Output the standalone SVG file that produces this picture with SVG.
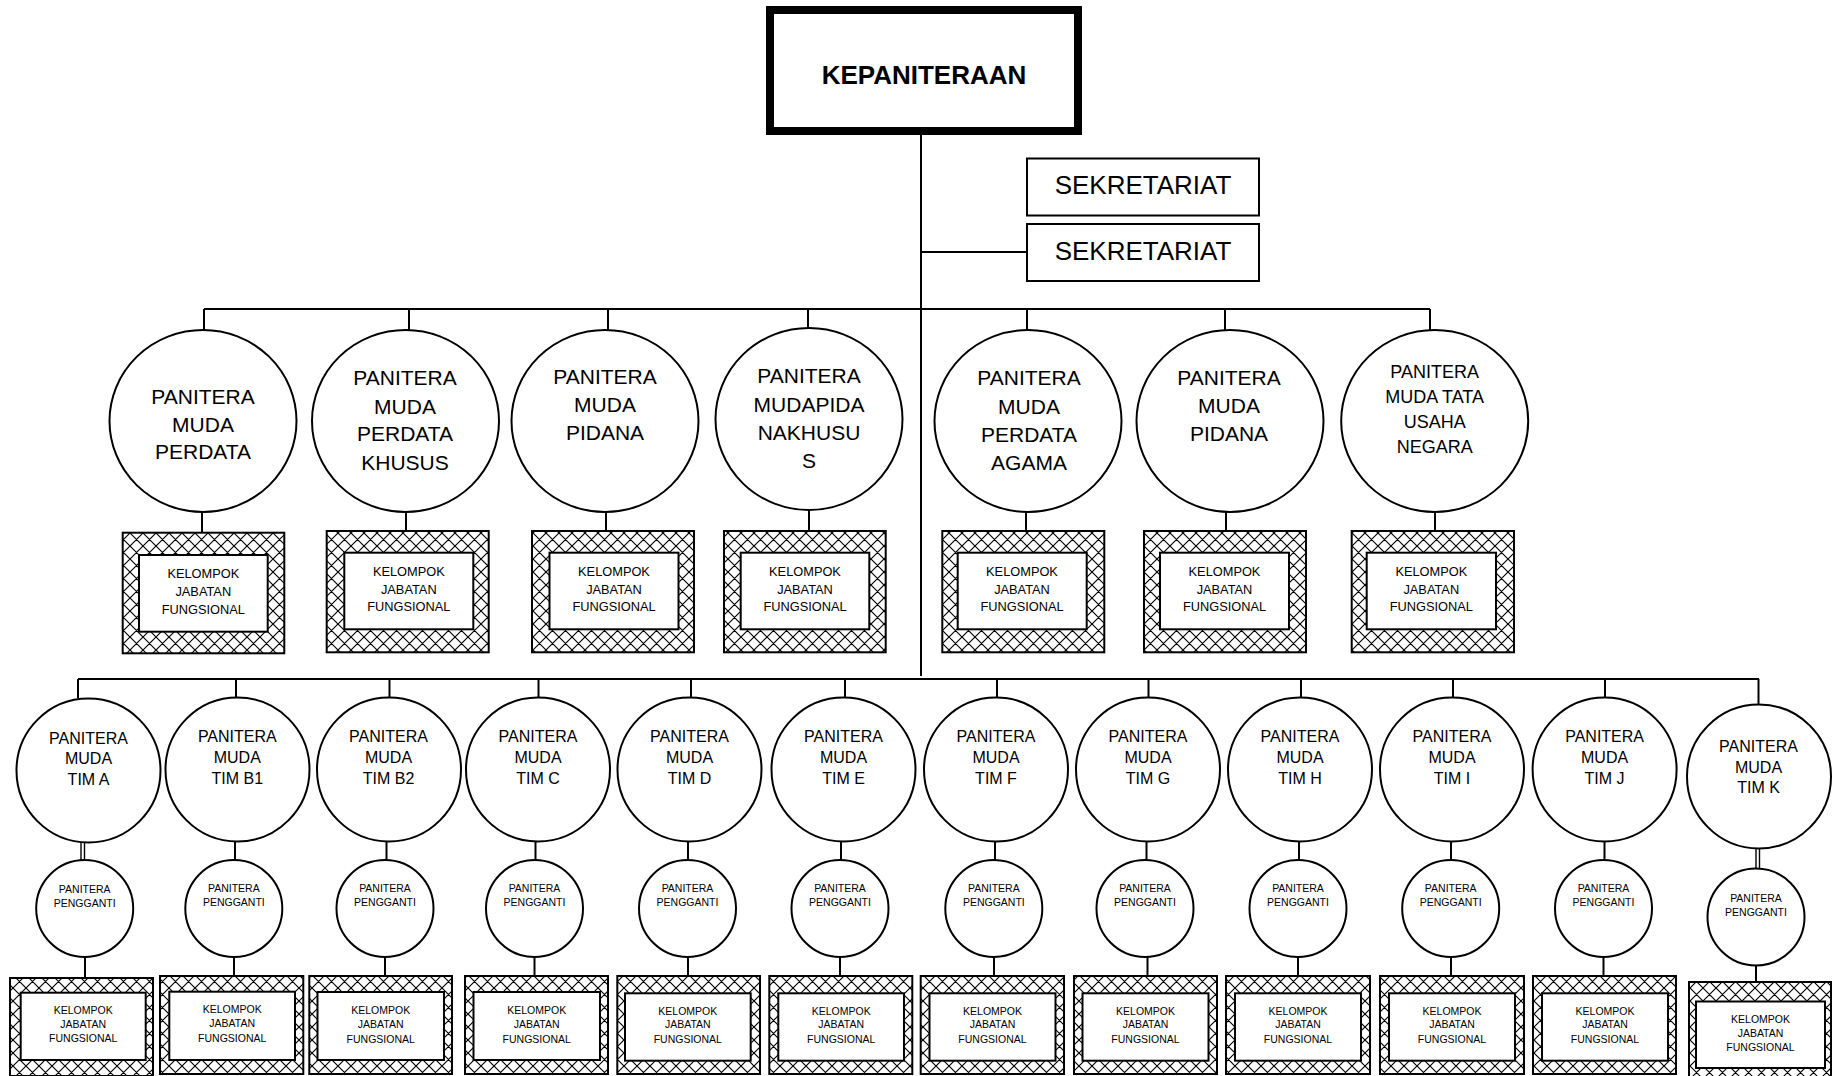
<svg xmlns="http://www.w3.org/2000/svg" width="1842" height="1076" viewBox="0 0 1842 1076">
<style>
.ln{stroke:#000;stroke-width:2;fill:none}
.dl{stroke:#000;stroke-width:1.4;fill:none}
.c{fill:#fff;stroke:#000;stroke-width:2}
.ob{fill:url(#hatch);stroke:#000;stroke-width:2}
.ib{fill:#fff;stroke:#000;stroke-width:2}
.t{font-family:"Liberation Sans",Arial,sans-serif;text-anchor:middle;fill:#000}
.t21{font-size:21px}
.t18{font-size:18px}
.t16{font-size:16px}
.t13{font-size:12.8px}
.t10{font-size:10.5px}
</style>
<defs>
<pattern id="hatch" width="13" height="13" patternUnits="userSpaceOnUse">
<rect width="13" height="13" fill="#fff"/>
<path d="M-6.5,-6.5 L19.5,19.5 M-6.5,6.5 L6.5,19.5 M6.5,-6.5 L19.5,6.5 M19.5,-6.5 L-6.5,19.5 M-6.5,6.5 L6.5,-6.5 M6.5,19.5 L19.5,6.5" stroke="#000" stroke-width="1.15"/>
</pattern>
</defs>
<rect width="1842" height="1076" fill="#fff"/>

<g id="connectors">
<line class="ln" x1="921" y1="134" x2="921" y2="676"/>
<line class="ln" x1="921" y1="252" x2="1027" y2="252"/>
<line class="ln" x1="204" y1="309" x2="1430" y2="309"/>
<line class="ln" x1="204" y1="309" x2="204" y2="330"/>
<line class="ln" x1="409" y1="309" x2="409" y2="330"/>
<line class="ln" x1="608" y1="309" x2="608" y2="330"/>
<line class="ln" x1="808" y1="309" x2="808" y2="328"/>
<line class="ln" x1="1027" y1="309" x2="1027" y2="330"/>
<line class="ln" x1="1225" y1="309" x2="1225" y2="330"/>
<line class="ln" x1="1430" y1="309" x2="1430" y2="330"/>
<line class="ln" x1="202" y1="512" x2="202" y2="533"/>
<line class="ln" x1="406" y1="512" x2="406" y2="531"/>
<line class="ln" x1="606" y1="512" x2="606" y2="532"/>
<line class="ln" x1="809" y1="510" x2="809" y2="531"/>
<line class="ln" x1="1026" y1="512" x2="1026" y2="531"/>
<line class="ln" x1="1226" y1="512" x2="1226" y2="531"/>
<line class="ln" x1="1435" y1="512" x2="1435" y2="531"/>
<line class="ln" x1="78" y1="679" x2="1759" y2="679"/>
<line class="ln" x1="78" y1="679" x2="78" y2="698"/>
<line class="ln" x1="236" y1="679" x2="236" y2="698"/>
<line class="ln" x1="389.5" y1="679" x2="389.5" y2="698"/>
<line class="ln" x1="538.5" y1="679" x2="538.5" y2="698"/>
<line class="ln" x1="691" y1="679" x2="691" y2="698"/>
<line class="ln" x1="845" y1="679" x2="845" y2="698"/>
<line class="ln" x1="997" y1="679" x2="997" y2="698"/>
<line class="ln" x1="1148.5" y1="679" x2="1148.5" y2="698"/>
<line class="ln" x1="1301" y1="679" x2="1301" y2="698"/>
<line class="ln" x1="1453" y1="679" x2="1453" y2="698"/>
<line class="ln" x1="1605" y1="679" x2="1605" y2="698"/>
<line class="ln" x1="1758.5" y1="679" x2="1758.5" y2="705"/>
<line class="dl" x1="81" y1="842" x2="81" y2="861"/>
<line class="dl" x1="84.5" y1="842" x2="84.5" y2="861"/>
<line class="ln" x1="235" y1="842" x2="235" y2="860"/>
<line class="ln" x1="386.5" y1="842" x2="386.5" y2="860"/>
<line class="ln" x1="535.5" y1="842" x2="535.5" y2="860"/>
<line class="ln" x1="688" y1="842" x2="688" y2="860"/>
<line class="ln" x1="841" y1="842" x2="841" y2="860"/>
<line class="ln" x1="995" y1="842" x2="995" y2="860"/>
<line class="ln" x1="1146.5" y1="842" x2="1146.5" y2="860"/>
<line class="ln" x1="1299" y1="842" x2="1299" y2="860"/>
<line class="ln" x1="1451" y1="842" x2="1451" y2="860"/>
<line class="ln" x1="1604.5" y1="842" x2="1604.5" y2="860"/>
<line class="dl" x1="1756" y1="848" x2="1756" y2="869"/>
<line class="dl" x1="1759.5" y1="848" x2="1759.5" y2="869"/>
<line class="ln" x1="85" y1="957" x2="85" y2="978"/>
<line class="ln" x1="234" y1="957" x2="234" y2="976"/>
<line class="ln" x1="385" y1="957" x2="385" y2="976"/>
<line class="ln" x1="534.5" y1="957" x2="534.5" y2="976"/>
<line class="ln" x1="688" y1="957" x2="688" y2="976"/>
<line class="ln" x1="840" y1="957" x2="840" y2="976"/>
<line class="ln" x1="994" y1="957" x2="994" y2="976"/>
<line class="ln" x1="1147.5" y1="957" x2="1147.5" y2="976"/>
<line class="ln" x1="1298" y1="957" x2="1298" y2="976"/>
<line class="ln" x1="1451" y1="957" x2="1451" y2="976"/>
<line class="ln" x1="1603.5" y1="957" x2="1603.5" y2="976"/>
<line class="ln" x1="1756" y1="965" x2="1756" y2="982"/>
</g>

<g id="kepaniteraan">
<rect x="770" y="10" width="308" height="121" fill="#fff" stroke="#000" stroke-width="8"/>
<text class="t" x="924" y="84" font-size="26" font-weight="bold">KEPANITERAAN</text>
</g>
<g id="sekretariat-1">
<rect class="c" x="1027" y="158.5" width="232" height="57"/>
<text class="t" x="1143" y="194" font-size="26">SEKRETARIAT</text>
</g>
<g id="sekretariat-2">
<rect class="c" x="1027" y="224" width="232" height="57"/>
<text class="t" x="1143" y="259.5" font-size="26">SEKRETARIAT</text>
</g>

<g id="pm-perdata">
<ellipse class="c" cx="203" cy="421" rx="93.5" ry="91"/>
<text class="t t21"><tspan x="203" y="403.5">PANITERA</tspan><tspan x="203" y="431.5">MUDA</tspan><tspan x="203" y="459">PERDATA</tspan></text>
</g>
<g id="pm-perdata-khusus">
<ellipse class="c" cx="405.5" cy="421" rx="93.5" ry="91"/>
<text class="t t21"><tspan x="405" y="385">PANITERA</tspan><tspan x="405" y="413.5">MUDA</tspan><tspan x="405" y="441">PERDATA</tspan><tspan x="405" y="470">KHUSUS</tspan></text>
</g>
<g id="pm-pidana">
<ellipse class="c" cx="605" cy="421" rx="93.5" ry="91"/>
<text class="t t21"><tspan x="605" y="383.5">PANITERA</tspan><tspan x="605" y="411.5">MUDA</tspan><tspan x="605" y="439.5">PIDANA</tspan></text>
</g>
<g id="pm-pidana-khusus">
<ellipse class="c" cx="809" cy="419" rx="93.5" ry="91"/>
<text class="t t21"><tspan x="809" y="383">PANITERA</tspan><tspan x="809" y="411.5">MUDAPIDA</tspan><tspan x="809" y="439.5">NAKHUSU</tspan><tspan x="809" y="468">S</tspan></text>
</g>
<g id="pm-perdata-agama">
<ellipse class="c" cx="1028" cy="421" rx="93.5" ry="91"/>
<text class="t t21"><tspan x="1029" y="385">PANITERA</tspan><tspan x="1029" y="413.5">MUDA</tspan><tspan x="1029" y="441.5">PERDATA</tspan><tspan x="1029" y="470">AGAMA</tspan></text>
</g>
<g id="pm-pidana-2">
<ellipse class="c" cx="1230" cy="421" rx="93.5" ry="91"/>
<text class="t t21"><tspan x="1229" y="384.5">PANITERA</tspan><tspan x="1229" y="412.5">MUDA</tspan><tspan x="1229" y="441">PIDANA</tspan></text>
</g>
<g id="pm-tun">
<ellipse class="c" cx="1434.7" cy="421" rx="93.5" ry="91"/>
<text class="t t18"><tspan x="1434.7" y="378">PANITERA</tspan><tspan x="1434.7" y="403">MUDA TATA</tspan><tspan x="1434.7" y="428">USAHA</tspan><tspan x="1434.7" y="452.5">NEGARA</tspan></text>
</g>

<g id="kjf-top-1"><rect class="ob" x="122.7" y="532.7" width="161.6" height="120.6"/><rect class="ib" x="139" y="555" width="128.7" height="76.7"/>
<text class="t t13"><tspan x="203.3" y="577.8">KELOMPOK</tspan><tspan x="203.3" y="596">JABATAN</tspan><tspan x="203.3" y="613.8">FUNGSIONAL</tspan></text></g>
<g id="kjf-top-2"><rect class="ob" x="326.7" y="531" width="162" height="121.3"/><rect class="ib" x="344.3" y="552.7" width="129" height="76.6"/>
<text class="t t13"><tspan x="408.8" y="576.2">KELOMPOK</tspan><tspan x="408.8" y="593.8">JABATAN</tspan><tspan x="408.8" y="610.8">FUNGSIONAL</tspan></text></g>
<g id="kjf-top-3"><rect class="ob" x="532" y="531" width="162" height="121.3"/><rect class="ib" x="549.5" y="552.7" width="129" height="76.6"/>
<text class="t t13"><tspan x="614" y="576.2">KELOMPOK</tspan><tspan x="614" y="593.8">JABATAN</tspan><tspan x="614" y="610.8">FUNGSIONAL</tspan></text></g>
<g id="kjf-top-4"><rect class="ob" x="724" y="531" width="161.7" height="121.3"/><rect class="ib" x="740.7" y="552.7" width="128.6" height="76.6"/>
<text class="t t13"><tspan x="805" y="576.2">KELOMPOK</tspan><tspan x="805" y="593.8">JABATAN</tspan><tspan x="805" y="610.8">FUNGSIONAL</tspan></text></g>
<g id="kjf-top-5"><rect class="ob" x="942.3" y="531" width="162" height="121.3"/><rect class="ib" x="957.7" y="552.7" width="129" height="76.6"/>
<text class="t t13"><tspan x="1022" y="576.2">KELOMPOK</tspan><tspan x="1022" y="593.8">JABATAN</tspan><tspan x="1022" y="610.8">FUNGSIONAL</tspan></text></g>
<g id="kjf-top-6"><rect class="ob" x="1144" y="531" width="162" height="121.3"/><rect class="ib" x="1160" y="552.7" width="129" height="76.6"/>
<text class="t t13"><tspan x="1224.5" y="576.2">KELOMPOK</tspan><tspan x="1224.5" y="593.8">JABATAN</tspan><tspan x="1224.5" y="610.8">FUNGSIONAL</tspan></text></g>
<g id="kjf-top-7"><rect class="ob" x="1351.7" y="531" width="162.3" height="121.3"/><rect class="ib" x="1366.7" y="552.7" width="129.3" height="76.6"/>
<text class="t t13"><tspan x="1431.3" y="576.2">KELOMPOK</tspan><tspan x="1431.3" y="593.8">JABATAN</tspan><tspan x="1431.3" y="610.8">FUNGSIONAL</tspan></text></g>

<g id="tim-a"><circle class="c" cx="88.5" cy="770.5" r="72"/>
<text class="t t16"><tspan x="88.5" y="743.5">PANITERA</tspan><tspan x="88.5" y="764">MUDA</tspan><tspan x="88.5" y="785">TIM A</tspan></text></g>
<g id="tim-b1"><circle class="c" cx="237.5" cy="769.5" r="72"/>
<text class="t t16"><tspan x="237.3" y="741.5">PANITERA</tspan><tspan x="237.3" y="763">MUDA</tspan><tspan x="237.3" y="784">TIM B1</tspan></text></g>
<g id="tim-b2"><circle class="c" cx="389" cy="769.5" r="72"/>
<text class="t t16"><tspan x="388.5" y="741.5">PANITERA</tspan><tspan x="388.5" y="763">MUDA</tspan><tspan x="388.5" y="784">TIM B2</tspan></text></g>
<g id="tim-c"><circle class="c" cx="538" cy="769.5" r="72"/>
<text class="t t16"><tspan x="538" y="741.5">PANITERA</tspan><tspan x="538" y="763">MUDA</tspan><tspan x="538" y="784">TIM C</tspan></text></g>
<g id="tim-d"><circle class="c" cx="689.5" cy="769.5" r="72"/>
<text class="t t16"><tspan x="689.5" y="741.5">PANITERA</tspan><tspan x="689.5" y="763">MUDA</tspan><tspan x="689.5" y="784">TIM D</tspan></text></g>
<g id="tim-e"><circle class="c" cx="843.5" cy="769.5" r="72"/>
<text class="t t16"><tspan x="843.5" y="741.5">PANITERA</tspan><tspan x="843.5" y="763">MUDA</tspan><tspan x="843.5" y="784">TIM E</tspan></text></g>
<g id="tim-f"><circle class="c" cx="996" cy="769.5" r="72"/>
<text class="t t16"><tspan x="996" y="741.5">PANITERA</tspan><tspan x="996" y="763">MUDA</tspan><tspan x="996" y="784">TIM F</tspan></text></g>
<g id="tim-g"><circle class="c" cx="1148" cy="769.5" r="72"/>
<text class="t t16"><tspan x="1148" y="741.5">PANITERA</tspan><tspan x="1148" y="763">MUDA</tspan><tspan x="1148" y="784">TIM G</tspan></text></g>
<g id="tim-h"><circle class="c" cx="1300" cy="769.5" r="72"/>
<text class="t t16"><tspan x="1300" y="741.5">PANITERA</tspan><tspan x="1300" y="763">MUDA</tspan><tspan x="1300" y="784">TIM H</tspan></text></g>
<g id="tim-i"><circle class="c" cx="1452" cy="769.5" r="72"/>
<text class="t t16"><tspan x="1452" y="741.5">PANITERA</tspan><tspan x="1452" y="763">MUDA</tspan><tspan x="1452" y="784">TIM I</tspan></text></g>
<g id="tim-j"><circle class="c" cx="1604.6" cy="769.5" r="72"/>
<text class="t t16"><tspan x="1604.6" y="741.5">PANITERA</tspan><tspan x="1604.6" y="763">MUDA</tspan><tspan x="1604.6" y="784">TIM J</tspan></text></g>
<g id="tim-k"><circle class="c" cx="1759" cy="776.5" r="72"/>
<text class="t t16"><tspan x="1758.5" y="751.7">PANITERA</tspan><tspan x="1758.5" y="772.5">MUDA</tspan><tspan x="1758.5" y="793">TIM K</tspan></text></g>

<g id="pp-a"><circle class="c" cx="84.7" cy="908.5" r="48.5"/>
<text class="t t10"><tspan x="84.7" y="892.8">PANITERA</tspan><tspan x="84.7" y="906.5">PENGGANTI</tspan></text></g>
<g id="pp-b1"><circle class="c" cx="233.8" cy="908.5" r="48.5"/>
<text class="t t10"><tspan x="233.8" y="891.8">PANITERA</tspan><tspan x="233.8" y="905.5">PENGGANTI</tspan></text></g>
<g id="pp-b2"><circle class="c" cx="385" cy="908.5" r="48.5"/>
<text class="t t10"><tspan x="385" y="891.8">PANITERA</tspan><tspan x="385" y="905.5">PENGGANTI</tspan></text></g>
<g id="pp-c"><circle class="c" cx="534.5" cy="908.5" r="48.5"/>
<text class="t t10"><tspan x="534.5" y="891.8">PANITERA</tspan><tspan x="534.5" y="905.5">PENGGANTI</tspan></text></g>
<g id="pp-d"><circle class="c" cx="687.5" cy="908.5" r="48.5"/>
<text class="t t10"><tspan x="687.5" y="891.8">PANITERA</tspan><tspan x="687.5" y="905.5">PENGGANTI</tspan></text></g>
<g id="pp-e"><circle class="c" cx="840" cy="908.5" r="48.5"/>
<text class="t t10"><tspan x="840" y="891.8">PANITERA</tspan><tspan x="840" y="905.5">PENGGANTI</tspan></text></g>
<g id="pp-f"><circle class="c" cx="993.8" cy="908.5" r="48.5"/>
<text class="t t10"><tspan x="993.8" y="891.8">PANITERA</tspan><tspan x="993.8" y="905.5">PENGGANTI</tspan></text></g>
<g id="pp-g"><circle class="c" cx="1145" cy="908.5" r="48.5"/>
<text class="t t10"><tspan x="1145" y="891.8">PANITERA</tspan><tspan x="1145" y="905.5">PENGGANTI</tspan></text></g>
<g id="pp-h"><circle class="c" cx="1298" cy="908.5" r="48.5"/>
<text class="t t10"><tspan x="1298" y="891.8">PANITERA</tspan><tspan x="1298" y="905.5">PENGGANTI</tspan></text></g>
<g id="pp-i"><circle class="c" cx="1450.7" cy="908.5" r="48.5"/>
<text class="t t10"><tspan x="1450.7" y="891.8">PANITERA</tspan><tspan x="1450.7" y="905.5">PENGGANTI</tspan></text></g>
<g id="pp-j"><circle class="c" cx="1603.5" cy="908.5" r="48.5"/>
<text class="t t10"><tspan x="1603.5" y="891.8">PANITERA</tspan><tspan x="1603.5" y="905.5">PENGGANTI</tspan></text></g>
<g id="pp-k"><circle class="c" cx="1756" cy="917" r="48.5"/>
<text class="t t10"><tspan x="1756" y="901.5">PANITERA</tspan><tspan x="1756" y="915.5">PENGGANTI</tspan></text></g>

<g id="kjf-a"><rect class="ob" x="10" y="978" width="143" height="98"/><rect class="ib" x="20.7" y="992.7" width="125" height="67.3"/>
<text class="t t10"><tspan x="83.2" y="1014">KELOMPOK</tspan><tspan x="83.2" y="1028">JABATAN</tspan><tspan x="83.2" y="1042">FUNGSIONAL</tspan></text></g>
<g id="kjf-b1"><rect class="ob" x="160" y="976" width="143.3" height="98"/><rect class="ib" x="169.3" y="991.7" width="125.7" height="68.3"/>
<text class="t t10"><tspan x="232.2" y="1013">KELOMPOK</tspan><tspan x="232.2" y="1027">JABATAN</tspan><tspan x="232.2" y="1041.5">FUNGSIONAL</tspan></text></g>
<g id="kjf-b2"><rect class="ob" x="309.3" y="976" width="142.7" height="98"/><rect class="ib" x="317.5" y="992" width="126.5" height="68"/>
<text class="t t10"><tspan x="380.7" y="1014">KELOMPOK</tspan><tspan x="380.7" y="1028">JABATAN</tspan><tspan x="380.7" y="1042.5">FUNGSIONAL</tspan></text></g>
<g id="kjf-c"><rect class="ob" x="465" y="976" width="143" height="98"/><rect class="ib" x="473.5" y="992" width="126.5" height="68"/>
<text class="t t10"><tspan x="536.7" y="1014">KELOMPOK</tspan><tspan x="536.7" y="1028">JABATAN</tspan><tspan x="536.7" y="1042.5">FUNGSIONAL</tspan></text></g>
<g id="kjf-d"><rect class="ob" x="617.3" y="976" width="142.7" height="98"/><rect class="ib" x="625" y="993.3" width="125.7" height="67.4"/>
<text class="t t10"><tspan x="687.8" y="1014.5">KELOMPOK</tspan><tspan x="687.8" y="1028">JABATAN</tspan><tspan x="687.8" y="1043">FUNGSIONAL</tspan></text></g>
<g id="kjf-e"><rect class="ob" x="769.3" y="976" width="143" height="98"/><rect class="ib" x="778.3" y="993.3" width="125.7" height="67.4"/>
<text class="t t10"><tspan x="841.2" y="1014.5">KELOMPOK</tspan><tspan x="841.2" y="1028">JABATAN</tspan><tspan x="841.2" y="1043">FUNGSIONAL</tspan></text></g>
<g id="kjf-f"><rect class="ob" x="920.7" y="976" width="143.3" height="98"/><rect class="ib" x="929.5" y="993.3" width="126" height="67.4"/>
<text class="t t10"><tspan x="992.5" y="1014.5">KELOMPOK</tspan><tspan x="992.5" y="1028">JABATAN</tspan><tspan x="992.5" y="1043">FUNGSIONAL</tspan></text></g>
<g id="kjf-g"><rect class="ob" x="1074" y="976" width="143" height="98"/><rect class="ib" x="1082.5" y="993.3" width="126" height="67.4"/>
<text class="t t10"><tspan x="1145.5" y="1014.5">KELOMPOK</tspan><tspan x="1145.5" y="1028">JABATAN</tspan><tspan x="1145.5" y="1043">FUNGSIONAL</tspan></text></g>
<g id="kjf-h"><rect class="ob" x="1226" y="976" width="144" height="98"/><rect class="ib" x="1235" y="993.3" width="126" height="67.4"/>
<text class="t t10"><tspan x="1298" y="1014.5">KELOMPOK</tspan><tspan x="1298" y="1028">JABATAN</tspan><tspan x="1298" y="1043">FUNGSIONAL</tspan></text></g>
<g id="kjf-i"><rect class="ob" x="1380" y="976" width="144" height="98"/><rect class="ib" x="1389" y="993.3" width="126" height="67.4"/>
<text class="t t10"><tspan x="1452" y="1014.5">KELOMPOK</tspan><tspan x="1452" y="1028">JABATAN</tspan><tspan x="1452" y="1043">FUNGSIONAL</tspan></text></g>
<g id="kjf-j"><rect class="ob" x="1533" y="976" width="143" height="98"/><rect class="ib" x="1542" y="993.3" width="126" height="67.4"/>
<text class="t t10"><tspan x="1605" y="1014.5">KELOMPOK</tspan><tspan x="1605" y="1028">JABATAN</tspan><tspan x="1605" y="1043">FUNGSIONAL</tspan></text></g>
<g id="kjf-k"><rect class="ob" x="1689" y="982" width="142" height="96"/><rect class="ib" x="1696" y="1001.5" width="129" height="66.5"/>
<text class="t t10"><tspan x="1760.5" y="1022.5">KELOMPOK</tspan><tspan x="1760.5" y="1036.5">JABATAN</tspan><tspan x="1760.5" y="1051">FUNGSIONAL</tspan></text></g>
</svg>
